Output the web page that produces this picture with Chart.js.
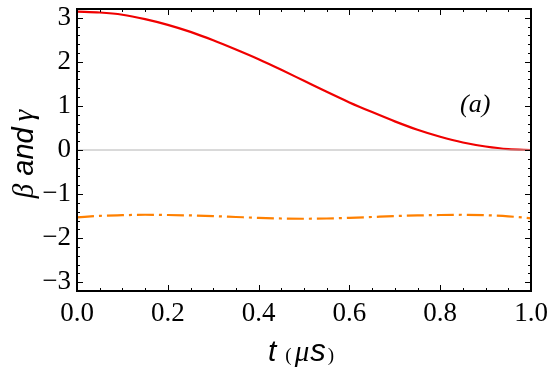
<!DOCTYPE html>
<html>
<head>
<meta charset="utf-8">
<script src="https://cdn.jsdelivr.net/npm/chart.js@4"></script>
<style>
  html, body { margin: 0; padding: 0; background: #fff; }
  #wrap { width: 552px; height: 368px; }
</style>
</head>
<body>
<div id="wrap"><canvas id="chart"></canvas></div>
<script>
// time axis (microseconds)
const times = [0, 0.05, 0.1, 0.15, 0.2, 0.25, 0.3, 0.35, 0.4, 0.45, 0.5,
               0.55, 0.6, 0.65, 0.7, 0.75, 0.8, 0.85, 0.9, 0.95, 1.0];
// beta (red solid)
const beta = [3.14, 3.12, 3.07, 2.97, 2.84, 2.68, 2.49, 2.28, 2.06, 1.82, 1.57,
              1.32, 1.08, 0.86, 0.65, 0.46, 0.30, 0.17, 0.08, 0.02, 0.0];
// gamma (orange dash-dot)
const gamma = [-1.53, -1.495, -1.48, -1.47, -1.475, -1.485, -1.50, -1.52, -1.54, -1.555, -1.56,
               -1.555, -1.54, -1.52, -1.50, -1.485, -1.475, -1.47, -1.48, -1.505, -1.55];
const baseline = [0, 0];
const xTicks = [0, 0.2, 0.4, 0.6, 0.8, 1.0];
const yTicks = [-3, -2, -1, 0, 1, 2, 3];

const toPoints = (xs, ys) => xs.map((x, i) => ({ x: x, y: ys[i] }));

const SERIF = '"Liberation Serif", serif';
const SANS = '"Liberation Sans", sans-serif';

// draws a run of differently styled pieces centred on (0, 0)
function drawPieces(ctx, pieces) {
  let total = 0;
  pieces.forEach(p => { ctx.font = p.font; p.w = ctx.measureText(p.text).width; total += p.w + (p.gap || 0); });
  let x = -total / 2;
  pieces.forEach(p => {
    ctx.font = p.font;
    ctx.fillText(p.text, x, p.dy || 0);
    x += p.w + (p.gap || 0);
  });
}

// frame with inward ticks on all four sides, axis titles and panel label
const framePlugin = {
  id: 'frame',
  afterDatasetsDraw(chart) {
    const ctx = chart.ctx;
    const a = chart.chartArea;
    const xs = chart.scales.x, ys = chart.scales.y;
    ctx.save();
    ctx.strokeStyle = '#000';
    ctx.lineWidth = 1;
    for (let k = 0; k <= 20; k++) {
      const px = Math.round(xs.getPixelForValue(k * 0.05)) + 0.5;
      const len = (k % 4 === 0) ? 6 : 3;
      ctx.beginPath();
      ctx.moveTo(px, a.bottom); ctx.lineTo(px, a.bottom - len);
      ctx.moveTo(px, a.top); ctx.lineTo(px, a.top + len);
      ctx.stroke();
    }
    for (let k = -16; k <= 16; k++) {
      const py = Math.round(ys.getPixelForValue(k * 0.2)) + 0.5;
      if (py < a.top + 1 || py > a.bottom - 1) continue;
      const len = (k % 5 === 0) ? 6 : 3;
      ctx.beginPath();
      ctx.moveTo(a.left, py); ctx.lineTo(a.left + len, py);
      ctx.moveTo(a.right, py); ctx.lineTo(a.right - len, py);
      ctx.stroke();
    }
    ctx.lineWidth = 2;
    ctx.strokeRect(a.left, a.top, a.right - a.left, a.bottom - a.top);

    ctx.fillStyle = '#000';
    ctx.textAlign = 'left';
    ctx.textBaseline = 'alphabetic';

    // panel label
    ctx.save();
    ctx.translate(xs.getPixelForValue(0.877), ys.getPixelForValue(1.07) + 9);
    drawPieces(ctx, [{ text: '(a)', font: 'italic 26px ' + SERIF }]);
    ctx.restore();

    // x title: t (μs)
    ctx.save();
    ctx.translate((a.left + a.right) / 2 - 3, 361);
    drawPieces(ctx, [
      { text: 't', font: 'italic 30px ' + SANS, gap: 9 },
      { text: '(', font: '19px ' + SERIF, gap: 3 },
      { text: '\u03bc', font: 'italic 29px ' + SERIF, gap: 1 },
      { text: 's', font: 'italic 31px ' + SANS, gap: 2 },
      { text: ')', font: '19px ' + SERIF }
    ]);
    ctx.restore();

    // y title: β and γ (rotated)
    ctx.save();
    ctx.translate(33, 154);
    ctx.rotate(-Math.PI / 2);
    drawPieces(ctx, [
      { text: '\u03b2', font: 'italic 29px ' + SERIF, gap: 8 },
      { text: 'and', font: 'italic 29px ' + SANS, gap: 6 },
      { text: '\u03b3', font: 'italic 29px ' + SERIF }
    ]);
    ctx.restore();
    ctx.restore();
  }
};

new Chart(document.getElementById('chart'), {
  type: 'line',
  data: {
    datasets: [
      {
        label: 'zero',
        data: toPoints([0, 1], baseline),
        borderColor: '#b4b4b4',
        borderWidth: 1,
        pointRadius: 0
      },
      {
        label: 'gamma',
        data: toPoints(times, gamma),
        borderColor: '#ff8000',
        borderWidth: 2.2,
        borderDash: [17, 5, 3, 5],
        pointRadius: 0,
        cubicInterpolationMode: 'monotone'
      },
      {
        label: 'beta',
        data: toPoints(times, beta),
        borderColor: '#f00000',
        borderWidth: 2.2,
        pointRadius: 0,
        cubicInterpolationMode: 'monotone'
      }
    ]
  },
  options: {
    responsive: true,
    maintainAspectRatio: false,
    animation: false,
    layout: { padding: { top: 9, right: 21, left: 0, bottom: 0 } },
    plugins: {
      legend: { display: false },
      tooltip: { enabled: false }
    },
    scales: {
      x: {
        type: 'linear',
        min: 0,
        max: 1,
        afterBuildTicks: (s) => { s.ticks = xTicks.map(v => ({ value: v })); },
        afterFit: (s) => { s.height = 77; s.paddingLeft = 0; s.paddingRight = 0; },
        grid: { display: false, drawTicks: false },
        border: { display: false },
        ticks: {
          color: '#000',
          padding: 7,
          maxRotation: 0,
          font: { family: SERIF, size: 27 },
          callback: (v) => Number(v).toFixed(1)
        },
        title: { display: false }
      },
      y: {
        min: -3.2,
        max: 3.2,
        afterBuildTicks: (s) => { s.ticks = yTicks.map(v => ({ value: v })); },
        afterFit: (s) => { s.width = 77; s.paddingTop = 0; s.paddingBottom = 0; },
        grid: { display: false, drawTicks: false },
        border: { display: false },
        ticks: {
          color: '#000',
          padding: 6,
          font: { family: SERIF, size: 27 },
          callback: (v) => (v < 0 ? '\u2212' + Math.abs(v) : String(v))
        },
        title: { display: false }
      }
    }
  },
  plugins: [framePlugin]
});
</script>
</body>
</html>
